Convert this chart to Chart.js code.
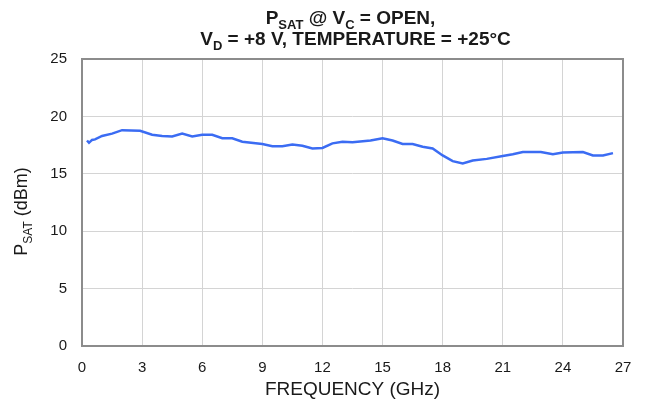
<!DOCTYPE html>
<html>
<head>
<meta charset="utf-8">
<script src="https://cdn.jsdelivr.net/npm/chart.js@4.4.1/dist/chart.umd.min.js"></script>
<style>
  html, body { margin: 0; padding: 0; background: #fff; }
  #wrap { width: 645px; height: 403px; }
</style>
</head>
<body>
<div id="wrap"><canvas id="psatChart" width="645" height="403"></canvas></div>
<script>
// values
var freqGHz = [0.25, 0.35, 0.5, 0.65, 1, 1.5, 2, 2.9, 3.5, 4, 4.5, 5, 5.5, 6, 6.5, 7, 7.5, 8,
    9, 9.5, 10, 10.5, 11, 11.5, 12, 12.5, 13, 13.5, 14.4, 15, 15.5, 16, 16.5, 17, 17.5,
    18, 18.5, 19, 19.5, 20.2, 21, 21.5, 22, 22.9, 23.5, 24, 25, 25.5, 26, 26.5];
var psatDbm = [17.9, 17.7, 17.95, 18.0, 18.3, 18.5, 18.8, 18.75, 18.4, 18.3, 18.25, 18.5, 18.25, 18.4, 18.4, 18.1, 18.1, 17.8,
    17.6, 17.4, 17.4, 17.55, 17.45, 17.2, 17.25, 17.65, 17.8, 17.75, 17.9, 18.1, 17.9, 17.6, 17.6, 17.35, 17.2,
    16.6, 16.1, 15.9, 16.15, 16.3, 16.55, 16.7, 16.9, 16.9, 16.7, 16.85, 16.9, 16.6, 16.6, 16.8];
var xTicks = [0, 3, 6, 9, 12, 15, 18, 21, 24, 27];
var yTicks = [0, 5, 10, 15, 20, 25];

var titleLines = [
    [['P', 0], ['SAT', 1], [' @ V', 0], ['C', 1], [' = OPEN,', 0]],
    [['V', 0], ['D', 1], [' = +8 V, TEMPERATURE = +25°C', 0]]
];
var yTitle = [['P', 0], ['SAT', 1], [' (dBm)', 0]];

var FONT = 'Arial, "Liberation Sans", sans-serif';
var textColor = '#1a1a1a';

function drawRich(ctx, parts, cx, baseY, size, bold) {
    var w = bold ? 'bold ' : '';
    var big = w + size + 'px ' + FONT;
    var small = w + Math.round(size * 0.68) + 'px ' + FONT;
    var total = 0;
    parts.forEach(function (p) {
        ctx.font = p[1] ? small : big;
        total += ctx.measureText(p[0]).width;
    });
    var x = cx - total / 2;
    ctx.textAlign = 'left';
    ctx.textBaseline = 'alphabetic';
    parts.forEach(function (p) {
        ctx.font = p[1] ? small : big;
        ctx.fillText(p[0], x, baseY + (p[1] ? size * 0.25 : 0));
        x += ctx.measureText(p[0]).width;
    });
}

var richText = {
    id: 'richText',
    afterDraw: function (chart) {
        var ctx = chart.ctx;
        var area = chart.chartArea;
        var cx = (area.left + area.right) / 2;
        ctx.save();
        // frame around plot
        ctx.strokeStyle = '#8c8c8c';
        ctx.lineWidth = 2;
        ctx.strokeRect(area.left, area.top, area.right - area.left, area.bottom - area.top);
        ctx.fillStyle = textColor;
        drawRich(ctx, titleLines[0], cx - 2, 24, 19, true);
        drawRich(ctx, titleLines[1], cx + 3, 45, 19, true);
        ctx.translate(27, (area.top + area.bottom) / 2 + 9);
        ctx.rotate(-Math.PI / 2);
        drawRich(ctx, yTitle, 0, 0, 18, false);
        ctx.restore();
    }
};

var ctx = document.getElementById('psatChart').getContext('2d');
var psatChart = new Chart(ctx, {
    type: 'line',
    data: {
        datasets: [{
            label: 'PSAT',
            data: freqGHz.map(function (f, i) { return { x: f, y: psatDbm[i] }; }),
            borderColor: '#3b6cf3',
            borderWidth: 2.5,
            pointRadius: 0,
            tension: 0,
            fill: false
        }]
    },
    options: {
        responsive: false,
        animation: false,
        layout: { padding: { top: 59, right: 22, left: 0, bottom: 0 } },
        plugins: {
            legend: { display: false },
            tooltip: { enabled: false }
        },
        scales: {
            x: {
                type: 'linear',
                min: 0,
                max: 27,
                afterBuildTicks: function (axis) {
                    axis.ticks = xTicks.map(function (v) { return { value: v }; });
                },
                afterFit: function (axis) { axis.height = 57; },
                grid: { color: '#d4d4d4', lineWidth: 1, drawTicks: false },
                border: { display: false },
                ticks: { color: textColor, font: { family: FONT, size: 15 }, padding: 13, maxRotation: 0 },
                title: { display: true, text: 'FREQUENCY (GHz)', color: textColor, font: { family: FONT, size: 19 }, padding: { top: 0, bottom: 2 } }
            },
            y: {
                min: 0,
                max: 25,
                afterBuildTicks: function (axis) {
                    axis.ticks = yTicks.map(function (v) { return { value: v }; });
                },
                afterFit: function (axis) { axis.width = 82; },
                grid: { color: '#d4d4d4', lineWidth: 1, drawTicks: false },
                border: { display: false },
                ticks: { color: textColor, font: { family: FONT, size: 15 }, padding: 15 }
            }
        }
    },
    plugins: [richText]
});
</script>
</body>
</html>
